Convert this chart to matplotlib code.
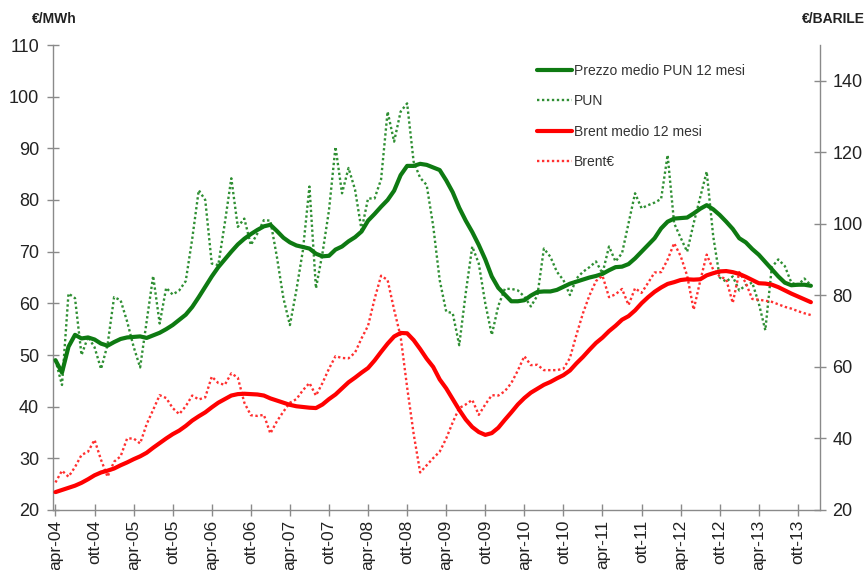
import matplotlib
matplotlib.use('Agg')
import matplotlib.pyplot as plt
import numpy as np

plt.rcParams['font.family'] = ['Liberation Sans', 'DejaVu Sans']

tick_labels = ['apr-04', 'ott-04', 'apr-05', 'ott-05', 'apr-06', 'ott-06', 'apr-07', 'ott-07',
               'apr-08', 'ott-08', 'apr-09', 'ott-09', 'apr-10', 'ott-10', 'apr-11', 'ott-11',
               'apr-12', 'ott-12', 'apr-13', 'ott-13']

# Prezzo medio PUN 12 mesi (€/MWh, left axis), monthly Apr-04 .. Dec-13
pun_12m = [49.0, 46.6, 51.6, 53.9, 53.2, 53.4, 53.0, 52.2, 51.8, 52.5, 53.1, 53.4,
           53.5, 53.6, 53.3, 53.8, 54.3, 55.0, 55.8, 56.8, 57.8, 59.3, 61.2, 63.2,
           65.2, 67.0, 68.5, 70.0, 71.4, 72.5, 73.4, 74.2, 74.9, 75.2, 74.0, 72.7,
           71.8, 71.2, 70.9, 70.6, 69.6, 69.1, 69.2, 70.4, 71.0, 72.0, 72.8, 73.9,
           76.0, 77.3, 78.7, 80.0, 81.8, 84.8, 86.6, 86.6, 87.0, 86.8, 86.3, 85.8,
           83.8, 81.5, 78.5, 76.0, 73.8, 71.3, 68.5, 65.2, 63.0, 61.7, 60.4, 60.4,
           60.6, 61.5, 62.2, 62.3, 62.3, 62.6, 63.2, 63.8, 64.2, 64.6, 65.0, 65.3,
           65.7, 66.4, 67.0, 67.1, 67.6, 68.7, 70.0, 71.3, 72.6, 74.5, 75.8, 76.4,
           76.5, 76.6, 77.4, 78.3, 79.0, 78.2, 77.1, 75.8, 74.4, 72.6, 71.8, 70.5,
           69.4, 68.0, 66.6, 65.2, 64.0, 63.5, 63.6, 63.6, 63.4]

# PUN monthly (€/MWh, left axis)
pun = [49.0, 44.2, 61.9, 61.0, 50.0, 53.5, 51.5, 47.3, 52.0, 61.2, 60.6, 56.5,
       51.6, 47.6, 56.5, 65.3, 56.1, 63.0, 61.7, 62.5, 64.3, 72.5, 81.9, 80.0,
       67.7, 67.4, 75.5, 84.2, 74.8, 76.4, 71.3, 73.5, 76.1, 76.0, 69.0, 61.0,
       55.8, 62.6, 70.3, 82.6, 62.9, 69.7, 78.0, 90.3, 81.3, 86.2, 82.0, 74.2,
       80.3, 80.3, 84.0, 97.1, 91.3, 97.1, 98.7, 87.4, 84.3, 82.9, 75.0, 64.5,
       58.4, 58.1, 51.9, 62.0, 71.0, 67.7, 60.0, 53.9, 59.5, 62.8, 62.8, 62.5,
       61.3, 59.4, 61.5, 70.6, 69.0, 66.1, 64.5, 61.6, 64.8, 66.1, 67.0, 68.1,
       65.8, 71.0, 68.1, 69.7, 75.5, 81.3, 78.4, 79.0, 79.5, 80.2, 88.7, 75.5,
       72.7, 70.0, 75.5, 80.5, 85.5, 73.0, 65.0, 64.2, 65.2, 62.5, 63.5, 64.0,
       60.0, 54.8, 67.0, 68.5, 67.2, 64.0, 63.5, 64.8, 63.5]

# Brent medio 12 mesi (€/barile, right axis)
brent_12m = [25.0, 25.6, 26.2, 26.8, 27.6, 28.6, 29.7, 30.5, 31.0, 31.6, 32.5, 33.3,
             34.2, 35.0, 36.0, 37.4, 38.7, 40.0, 41.2, 42.2, 43.5, 45.0, 46.2, 47.3,
             48.7, 50.0, 51.0, 52.0, 52.4, 52.5, 52.4, 52.3, 52.0, 51.2, 50.6, 50.0,
             49.4, 49.0, 48.8, 48.6, 48.5, 49.5, 51.0, 52.3, 54.0, 55.7, 57.0, 58.4,
             59.7, 61.8, 64.2, 66.5, 68.5, 69.5, 69.4, 67.5, 65.0, 62.3, 60.0, 56.5,
             54.0, 51.0, 48.0, 45.3, 43.2, 41.8, 41.0, 41.5, 43.0, 45.2, 47.3, 49.5,
             51.3, 52.8, 53.9, 55.0, 55.8, 56.8, 57.7, 59.0, 61.0, 62.8, 64.8, 66.7,
             68.2, 70.0, 71.5, 73.2, 74.2, 75.8, 77.8, 79.5, 81.0, 82.2, 83.2, 83.7,
             84.3, 84.5, 84.4, 84.5, 85.6, 86.2, 86.7, 86.8, 86.5, 86.0, 85.2, 84.3,
             83.4, 83.3, 83.0, 82.3, 81.4, 80.5, 79.7, 78.9, 78.1]

# Brent in € (€/barile, right axis)
brent_eur = [27.7, 31.0, 29.3, 32.0, 35.4, 36.3, 39.6, 34.0, 29.3, 33.5, 35.0, 40.0,
             40.0, 38.6, 44.0, 48.0, 52.1, 51.3, 48.5, 46.8, 49.0, 52.0, 50.9, 51.5,
             57.3, 55.5, 55.0, 58.2, 57.0, 50.0, 46.5, 46.3, 46.6, 41.4, 44.8, 47.5,
             50.0, 51.0, 53.5, 55.5, 52.0, 55.5, 59.5, 63.0, 62.5, 62.4, 64.0, 68.0,
             71.5, 79.0, 85.5, 84.3, 76.0, 68.5, 54.3, 41.3, 30.5, 32.5, 34.5, 36.3,
             40.0, 44.5, 48.5, 49.5, 50.8, 46.6, 49.5, 52.1, 52.0, 53.2, 55.5, 59.0,
             63.0, 60.5, 60.6, 59.1, 59.1, 59.1, 59.5, 62.5, 69.0, 75.0, 80.0, 84.0,
             85.5, 79.5, 80.3, 81.8, 77.3, 82.0, 80.7, 83.5, 86.4, 86.5, 90.0, 94.6,
             91.0, 85.5, 76.0, 84.0, 91.4, 87.2, 85.3, 84.5, 77.9, 86.5, 83.5, 79.0,
             78.8, 78.5, 78.2, 77.5, 76.8, 76.3, 75.6, 75.0, 74.5]

labels = ['Prezzo medio PUN 12 mesi', 'PUN', 'Brent medio 12 mesi', 'Brent€']

x = np.arange(len(pun))
tick_pos = np.arange(0, len(tick_labels) * 6, 6)

W, H = 866, 570
fig = plt.figure(figsize=(W / 100, H / 100), dpi=100)
L, R, T, B = 53, 820, 45, 510
ax = fig.add_axes([L / W, 1 - B / H, (R - L) / W, (B - T) / H])
ax2 = ax.twinx()

green_solid = '#0E7A12'
green_dot = '#2F8F33'
red_solid = '#FF0000'
red_dot = '#FF3030'
dots = (0, (1, 1.1))

h1, = ax.plot(x, pun_12m, color=green_solid, lw=3.0, solid_capstyle='round', zorder=3)
h2, = ax.plot(x, pun, color=green_dot, lw=1.7, ls=dots, zorder=2)
h3, = ax2.plot(x, brent_12m, color=red_solid, lw=3.0, solid_capstyle='round', zorder=3)
h4, = ax2.plot(x, brent_eur, color=red_dot, lw=1.7, ls=dots, zorder=2)

ax.set_xlim(-0.38, 117.4)
ax.set_ylim(20, 110)
ax2.set_ylim(20, 150)
ax.set_yticks(np.arange(20, 111, 10))
ax2.set_yticks(np.arange(20, 141, 20))
ax.set_xticks(tick_pos)
ax.set_xticklabels(tick_labels, rotation=90)

axis_col = '#8A8A8A'
for a in (ax, ax2):
    a.spines['top'].set_visible(False)
    for s in a.spines.values():
        s.set_color(axis_col)
        s.set_linewidth(1.0)
ax.spines['right'].set_visible(False)
ax2.spines['left'].set_visible(False)
ax2.spines['bottom'].set_visible(False)

ax.tick_params(axis='both', direction='inout', length=8, width=1, color=axis_col,
               labelsize=13, labelcolor='#222222')
ax.tick_params(axis='y', pad=6)
ax.tick_params(axis='x', pad=3, labelsize=12.5)
ax2.tick_params(axis='y', direction='inout', length=8, width=1, color=axis_col,
                labelsize=13, labelcolor='#222222', pad=5)

fig.text(54 / W, 1 - 19 / H, '€/MWh', ha='center', va='center', fontsize=10,
         fontweight='bold', color='#222222')
fig.text(833 / W, 1 - 19 / H, '€/BARILE', ha='center', va='center', fontsize=10,
         fontweight='bold', color='#222222')

leg = ax2.legend([h1, h2, h3, h4], labels, loc='upper left',
                 bbox_to_anchor=(537 / W, 1 - 64 / H), bbox_transform=fig.transFigure,
                 frameon=False, fontsize=10, handlelength=2.5, handletextpad=0.15,
                 labelspacing=1.17, borderpad=0, borderaxespad=0)
for t in leg.get_texts():
    t.set_color('#333333')

fig.savefig('out.png', dpi=100)
